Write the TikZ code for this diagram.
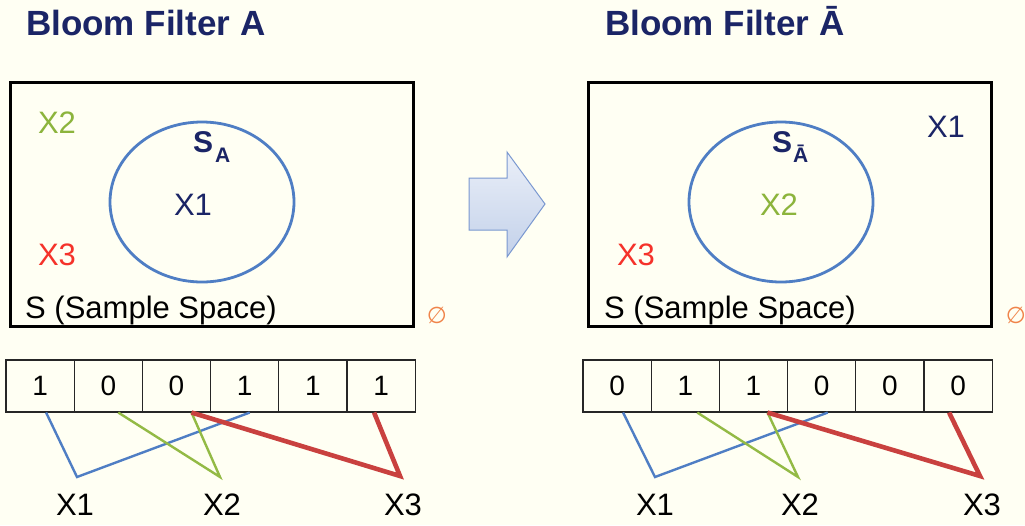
\documentclass[tikz,border=0pt]{standalone}
\usepackage{fontspec}
\setmainfont{Liberation Sans}
\newfontfamily\symfont{DejaVu Sans}
\usetikzlibrary{shapes.geometric}
\definecolor{pagetint}{HTML}{FFFFF3}
\definecolor{titlenavy}{HTML}{1B2566}
\definecolor{setblue}{HTML}{4F7EC4}
\definecolor{linegreen}{HTML}{93BA45}
\definecolor{textgreen}{HTML}{8CB43C}
\definecolor{linered}{HTML}{C9413F}
\definecolor{textred}{HTML}{F5322A}
\definecolor{emptyorange}{HTML}{F0844A}
\definecolor{arrowtop}{HTML}{EAEFF8}
\definecolor{arrowbot}{HTML}{C3D1EA}
\definecolor{arrowedge}{HTML}{7A98D0}

\begin{document}
\begin{tikzpicture}[x=1pt,y=-1pt,
    every node/.style={font=\fontsize{31}{36}\selectfont,inner sep=0pt},
    titletext/.style={font=\fontsize{35}{42}\selectfont\bfseries,text=titlenavy,anchor=base west},
    samplebox/.style={draw,line width=3pt,minimum width=403pt,minimum height=244pt},
    subset/.style={ellipse,draw=setblue,line width=2.8pt,minimum width=184pt,minimum height=160pt},
    bitcell/.style={draw=black!85,line width=1.1pt,minimum width=68.2pt,minimum height=52pt,font=\fontsize{28}{32}\selectfont},
    bluelink/.style={draw=setblue,line width=2.4pt},
    greenlink/.style={draw=linegreen,line width=2.4pt},
    redlink/.style={draw=linered,line width=4.6pt},
    emptyset/.style={font=\symfont\fontsize{23}{26}\selectfont,text=emptyorange}]
  \path[use as bounding box,fill=pagetint] (0,0) rectangle (1025,525);

  % filter A
  \node[titletext] (ta) at (26,35) {Bloom Filter A};
  \node[samplebox] (boxa) at (211.5,204) {};
  \node[subset] (sa) at (202,202) {};
  \node[anchor=base west,text=titlenavy] (lsa) at (193,152)
    {\fontsize{30}{36}\selectfont\bfseries S\kern2pt\raisebox{-10pt}{\fontsize{21}{24}\selectfont A}};
  \node[text=titlenavy] (ina1) at (193,205) {X1};
  \node[text=textgreen] (outa2) at (57,123) {X2};
  \node[text=textred] (outa3) at (57,255) {X3};
  \node[anchor=base west] (ssa) at (25,318) {S (Sample Space)};
  \node[emptyset] (ea) at (437,315) {∅};

  \foreach \b [count=\i] in {1,0,0,1,1,1}
    \node[bitcell] (ca\i) at ({40.1+68.2*(\i-1)},386) {\b};

  \node (xa1) at (75,505) {X1};
  \node (xa2) at (222,505) {X2};
  \node (xa3) at (403,505) {X3};
  \coordinate (va1) at (77,477);
  \coordinate (va2) at (220,477);
  \coordinate (va3) at (400,476);
  \draw[bluelink] ([xshift=6pt]ca1.south) -- (va1) -- ([xshift=5pt]ca4.south);
  \draw[greenlink] ([xshift=10pt]ca2.south) -- (va2) -- ([xshift=15pt]ca3.south);
  \draw[redlink] ([xshift=15pt]ca3.south) -- (va3) -- ([xshift=-7pt]ca6.south);

  % arrow between the filters
  \shade[top color=arrowtop,bottom color=arrowbot,draw=arrowedge,line width=1pt]
    (469,178) -- (507,178) -- (507,152) -- (545,204) -- (507,257) -- (507,230) -- (469,230) -- cycle;

  % filter A-bar
  \node[titletext] (tb) at (605,35) {Bloom Filter Ā};
  \node[samplebox] (boxb) at (790,204) {};
  \node[subset] (sb) at (781,202) {};
  \node[anchor=base west,text=titlenavy] (lsb) at (772,152)
    {\fontsize{30}{36}\selectfont\bfseries S\kern1pt\raisebox{-10pt}{\fontsize{21}{24}\selectfont Ā}};
  \node[text=textgreen] (inb2) at (779,205) {X2};
  \node[text=titlenavy] (outb1) at (946,127) {X1};
  \node[text=textred] (outb3) at (636,255) {X3};
  \node[anchor=base west] (ssb) at (604,318) {S (Sample Space)};
  \node[emptyset] (eb) at (1016,315) {∅};

  \foreach \b [count=\i] in {0,1,1,0,0,0}
    \node[bitcell] (cb\i) at ({617.1+68.2*(\i-1)},386) {\b};

  \node (xb1) at (655,505) {X1};
  \node (xb2) at (800,505) {X2};
  \node (xb3) at (982,505) {X3};
  \coordinate (vb1) at (655,477);
  \coordinate (vb2) at (798,477);
  \coordinate (vb3) at (980,476);
  \draw[bluelink] ([xshift=6pt]cb1.south) -- (vb1) -- ([xshift=6pt]cb4.south);
  \draw[greenlink] ([xshift=12pt]cb2.south) -- (vb2) -- ([xshift=14pt]cb3.south);
  \draw[redlink] ([xshift=14pt]cb3.south) -- (vb3) -- ([xshift=-9pt]cb6.south);
\end{tikzpicture}
\end{document}
